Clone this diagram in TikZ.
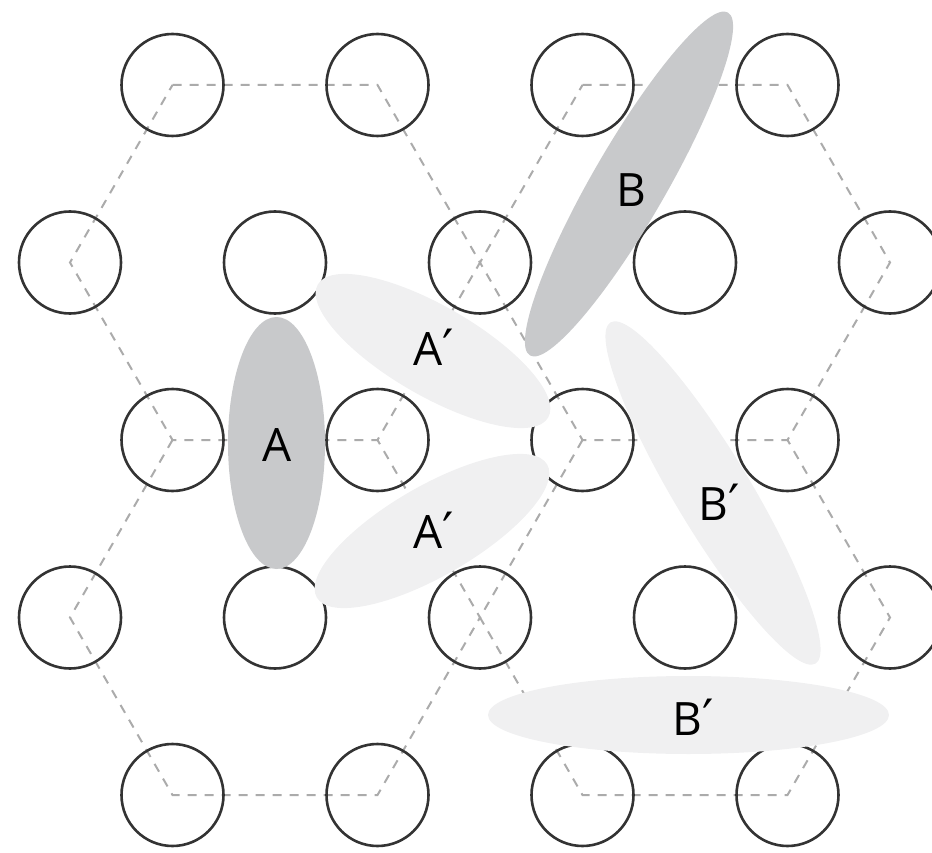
\documentclass[tikz,border=0pt]{standalone}
\usepackage{fontspec}
\setmainfont{Open Sans}
\newfontfamily\primefont{DejaVu Sans}
\usetikzlibrary{shapes.geometric}
\definecolor{darkfill}{HTML}{C8C9CB}
\definecolor{lightfill}{HTML}{F0F0F1}
\definecolor{ringcol}{HTML}{333333}
\definecolor{dashcol}{HTML}{ABABAB}
\newcommand{\pr}{{\primefont\fontsize{50}{54}\selectfont ′}}
\tikzset{
  ring/.style={draw=ringcol, line width=2.6pt, circle, minimum size=102pt, inner sep=0pt},
  hexline/.style={draw=dashcol, line width=2pt, dash pattern=on 9pt off 8pt},
  lbl/.style={font=\fontsize{46}{50}\selectfont, text=black, inner sep=0pt},
}
\begin{document}
\begin{tikzpicture}[x=1pt, y=-1pt]
\useasboundingbox (0,0) rectangle (932,853);
% hexagon vertices
\coordinate (v11) at (172.5,85);
\coordinate (v12) at (377.5,85);
\coordinate (v13) at (582.5,85);
\coordinate (v14) at (787.5,85);
\coordinate (v21) at (70,262.5);
\coordinate (c21) at (275,262.5);
\coordinate (v22) at (480,262.5);
\coordinate (c22) at (685,262.5);
\coordinate (v23) at (890,262.5);
\coordinate (v31) at (172.5,440);
\coordinate (v32) at (377.5,440);
\coordinate (v33) at (582.5,440);
\coordinate (v34) at (787.5,440);
\coordinate (v41) at (70,617.5);
\coordinate (c41) at (275,617.5);
\coordinate (v42) at (480,617.5);
\coordinate (c42) at (685,617.5);
\coordinate (v43) at (890,617.5);
\coordinate (v51) at (172.5,795);
\coordinate (v52) at (377.5,795);
\coordinate (v53) at (582.5,795);
\coordinate (v54) at (787.5,795);
% dashed hexagons
\draw[hexline] (v11) -- (v12) -- (v22) -- (v32) -- (v31) -- (v21) -- cycle;
\draw[hexline] (v31) -- (v41) -- (v51) -- (v52) -- (v42) -- (v32);
\draw[hexline] (v13) -- (v14) -- (v23) -- (v34) -- (v33) -- (v22) -- cycle;
\draw[hexline] (v33) -- (v42) -- (v53) -- (v54) -- (v43) -- (v34);
% circles
\foreach \p in {v11,v12,v13,v14,v21,c21,v22,c22,v23,v31,v32,v33,v34,v41,c41,v42,c42,v43,v51,v52,v53,v54}
  \node[ring] (r\p) at (\p) {};
% ellipses
\fill[darkfill] (276.5,443) ellipse [x radius=48.5, y radius=126];
\fill[lightfill, rotate around={-30:(433,351)}] (433,351) ellipse [x radius=133, y radius=45];
\fill[lightfill, rotate around={30:(432,531)}] (432,531) ellipse [x radius=133, y radius=45];
\fill[darkfill, rotate around={60:(629,184)}] (629,184) ellipse [x radius=198, y radius=37];
\fill[lightfill, rotate around={-59:(713,493)}] (713,493) ellipse [x radius=199, y radius=38];
\fill[lightfill] (688.5,715) ellipse [x radius=200.5, y radius=39];
% labels
\node[lbl] (la) at (277,445) {A};
\node[lbl] (lap1) at (434,347) {A\pr};
\node[lbl] (lap2) at (434,530) {A\pr};
\node[lbl] (lb) at (631,190) {B};
\node[lbl] (lbp1) at (719,502) {B\pr};
\node[lbl] (lbp2) at (693,717) {B\pr};
\end{tikzpicture}
\end{document}
